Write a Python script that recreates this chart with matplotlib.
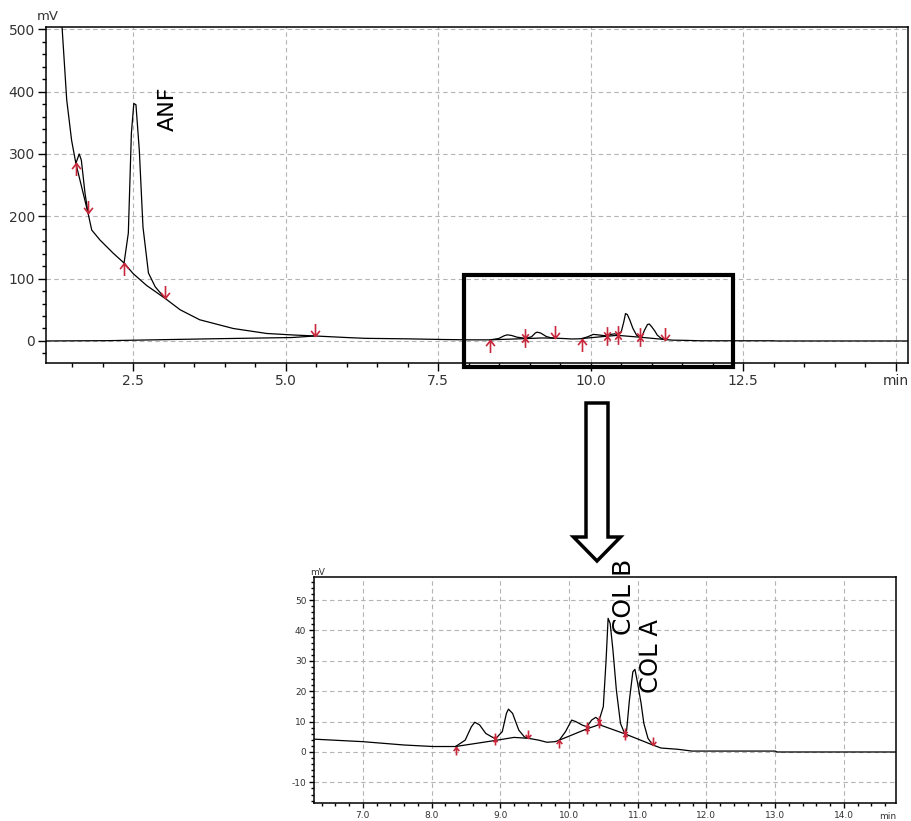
import matplotlib

matplotlib.use("Agg")
import matplotlib.pyplot as plt
from matplotlib.path import Path
from matplotlib.patches import Rectangle, FancyArrow
from matplotlib.ticker import MultipleLocator

# detector signal, time (min) and response (mV)
trace_t = [1.31, 1.41, 1.49, 1.56, 1.615, 1.65, 1.71, 1.76, 1.82, 1.955,
           2.17, 2.35, 2.42, 2.47, 2.51, 2.545, 2.60, 2.66, 2.75, 2.86,
           3.02, 3.27, 3.59, 4.14, 4.69, 5.12, 5.48, 6.0, 6.31, 7.0,
           7.6, 8.02, 8.35, 8.49, 8.58, 8.63, 8.70, 8.79, 8.93, 9.03,
           9.09, 9.12, 9.18, 9.27, 9.35, 9.41, 9.56, 9.68, 9.80, 9.86,
           9.95, 10.04, 10.10, 10.19, 10.26, 10.33, 10.39, 10.44, 10.50, 10.54,
           10.57, 10.60, 10.64, 10.69, 10.75, 10.81, 10.84, 10.88, 10.93, 10.96,
           11.00, 11.05, 11.09, 11.15, 11.22, 11.34, 11.58, 11.79, 13.0, 13.03,
           14.74, 15.2]
trace_mv = [540, 387, 322, 285, 300, 290, 237, 205, 178, 162,
            141, 125, 173, 333, 381, 379, 306, 183, 109, 87,
            68.5, 50, 34, 20, 12, 9.6, 8.0, 5.5, 4.2, 3.4,
            2.3, 1.8, 1.8, 3.9, 8.3, 9.8, 8.9, 6.1, 4.3, 6.7,
            12.7, 14.1, 12.7, 7.2, 5.0, 4.5, 3.9, 3.2, 3.4, 3.9,
            6.7, 10.5, 10.0, 8.9, 8.3, 10.5, 11.4, 10.5, 14.9, 30.0,
            44.0, 42.3, 33.6, 20.4, 9.4, 6.1, 7.2, 17.1, 26.4, 27.2,
            22.6, 16.0, 9.4, 4.5, 2.3, 1.3, 0.9, 0.3, 0.3, 0.0,
            0.0, 0.0]

# second, near-zero line at the start of the run
zero_t = [1.07, 2.1, 3.8, 5.1, 5.48]
zero_mv = [0.0, 0.5, 3.5, 5.5, 8.0]

# integration baselines under the peaks
base1_t = [1.56, 1.76]
base1_mv = [285, 205]
base2_t = [2.35, 2.5, 2.72, 3.02]
base2_mv = [125, 108, 89, 68.5]
base3_t = [8.35, 8.93, 9.2, 9.41]
base3_mv = [1.8, 3.8, 4.8, 4.5]
base4_t = [9.86, 10.26, 10.44, 10.81, 11.22]
base4_mv = [3.9, 7.6, 9.0, 6.0, 2.3]

# peak start / end marks
mark_t = [1.56, 1.76, 2.35, 3.02, 5.48, 8.35, 8.93, 9.41, 9.86, 10.26, 10.44, 10.81, 11.22]
mark_mv = [285, 205, 125, 68.5, 8.0, 1.8, 4.2, 4.5, 3.9, 8.0, 10.0, 6.0, 2.3]
mark_kind = ["up", "down", "up", "down", "down", "up", "both", "down", "up",
             "both", "both", "both", "down"]

top_ticks = [2.5, 5.0, 7.5, 10.0, 12.5, 15.0]
top_labels = ["2.5", "5.0", "7.5", "10.0", "12.5", "min"]
bot_ticks = [7.0, 8.0, 9.0, 10.0, 11.0, 12.0, 13.0, 14.0]
bot_labels = ["7.0", "8.0", "9.0", "10.0", "11.0", "12.0", "13.0", "14.0"]

RED = "#c8283c"
GRID = "#b4b4b4"


def arrow_marker(kind):
    verts, codes = [], []
    if kind in ("down", "both"):
        verts += [(0, 1), (0, 0), (-0.35, 0.45), (0, 0), (0.35, 0.45)]
        codes += [Path.MOVETO, Path.LINETO, Path.MOVETO, Path.LINETO, Path.LINETO]
    if kind in ("up", "both"):
        verts += [(0, -1), (0, 0), (-0.35, -0.45), (0, 0), (0.35, -0.45)]
        codes += [Path.MOVETO, Path.LINETO, Path.MOVETO, Path.LINETO, Path.LINETO]
    return Path(verts, codes)


def draw_trace(ax, size):
    ax.plot(trace_t, trace_mv, color="black", lw=0.9, zorder=3)
    ax.plot(zero_t, zero_mv, color="black", lw=0.9, zorder=3)
    for bt, bv in [(base1_t, base1_mv), (base2_t, base2_mv), (base3_t, base3_mv), (base4_t, base4_mv)]:
        ax.plot(bt, bv, color="black", lw=0.9, zorder=3)
    for kind in ("up", "down", "both"):
        xs = [t for t, k in zip(mark_t, mark_kind) if k == kind]
        ys = [v for v, k in zip(mark_mv, mark_kind) if k == kind]
        ms = size * 0.75 if kind == "both" else size
        ax.plot(xs, ys, ls="none", marker=arrow_marker(kind), ms=ms,
                mfc="none", mec=RED, mew=1.2, zorder=4)


def style_axes(ax, major_len, minor_len, fsize, pad):
    ax.grid(True, which="major", color=GRID, ls=(0, (4, 3)), lw=0.8)
    ax.set_axisbelow(True)
    ax.tick_params(which="major", direction="out", length=major_len, width=1,
                   labelsize=fsize, pad=pad, colors="black", labelcolor="#333333")
    ax.tick_params(which="minor", direction="out", length=minor_len, width=1)
    ax.tick_params(top=False, right=False, which="both")
    for s in ax.spines.values():
        s.set_linewidth(1.1)


plt.rcParams["font.family"] = ["DejaVu Sans"]
plt.rcParams["axes.unicode_minus"] = False
fig = plt.figure(figsize=(9.12, 8.21), dpi=100)

# full chromatogram
ax_top = fig.add_axes([0.0504, 0.5579, 0.9452, 0.4092])
draw_trace(ax_top, 18)
ax_top.set_xlim(1.07, 15.2)
ax_top.set_ylim(-35.3, 503.7)
ax_top.set_xticks(top_ticks)
ax_top.set_xticklabels(top_labels)
ax_top.set_yticks([0, 100, 200, 300, 400, 500])
ax_top.xaxis.set_minor_locator(MultipleLocator(0.5))
ax_top.yaxis.set_minor_locator(MultipleLocator(20))
style_axes(ax_top, 5.5, 3, 10, 2.5)
ax_top.text(3.06, 373, "ANF", rotation=90, ha="center", va="center", fontsize=16)
ax_top.add_patch(Rectangle((7.92, -41.7), 12.33 - 7.92, 105.9 + 41.7, fill=False,
                           lw=3, ec="black", clip_on=False, zorder=6))
fig.text(48 / 912, 1 - 17 / 821, "mV", ha="center", va="center", fontsize=9.5, color="#333333")

# zoomed region
ax_bot = fig.add_axes([0.3443, 0.0219, 0.6382, 0.2753])
draw_trace(ax_bot, 11.5)
ax_bot.set_xlim(6.29, 14.76)
ax_bot.set_ylim(-16.8, 57.6)
ax_bot.set_xticks(bot_ticks)
ax_bot.set_xticklabels(bot_labels)
ax_bot.set_yticks([-10, 0, 10, 20, 30, 40, 50])
ax_bot.xaxis.set_minor_locator(MultipleLocator(0.2))
ax_bot.yaxis.set_minor_locator(MultipleLocator(2))
style_axes(ax_bot, 3.5, 2, 6.5, 2)
ax_bot.text(10.80, 51, "COL B", rotation=90, ha="center", va="center", fontsize=18)
ax_bot.text(11.19, 31.6, "COL A", rotation=90, ha="center", va="center", fontsize=17.5)
fig.text(318 / 912, 1 - 572 / 821, "mV", ha="center", va="center", fontsize=6.5, color="#333333")
fig.text(888 / 912, 1 - 816 / 821, "min", ha="center", va="center", fontsize=6.5, color="#333333")

# hollow arrow pointing from the box down to the zoomed plot
fig.add_artist(FancyArrow(597 / 912, 1 - 403 / 821, 0, -(561 - 403) / 821,
                          width=22 / 912, head_width=47 / 912, head_length=24 / 821,
                          length_includes_head=True, transform=fig.transFigure,
                          fc="white", ec="black", lw=2.5))

fig.savefig("out.png", dpi=100)
